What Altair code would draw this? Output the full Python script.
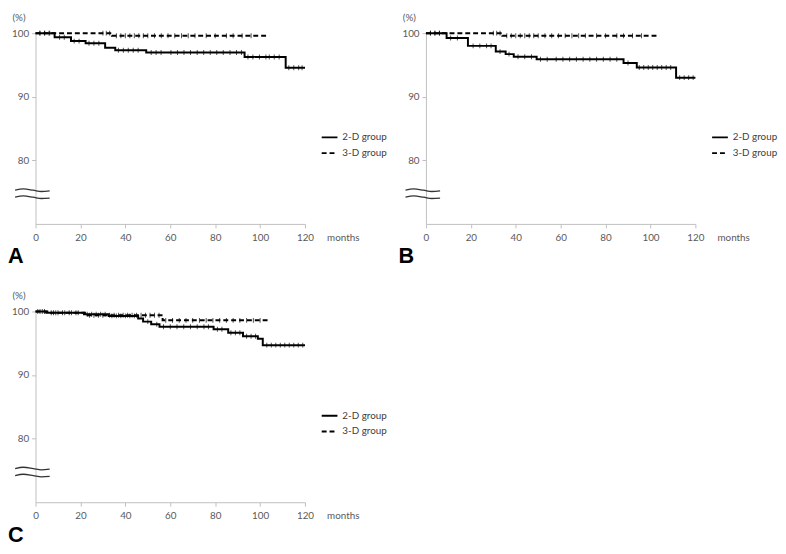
import altair as alt
import pandas as pd

# ---------------- data ----------------
groups = ["2-D group", "3-D group"]
x_ticks = [0, 20, 40, 60, 80, 100, 120]
y_ticks = [80, 90, 100]

# Panel A
a2_month = [0, 8.5, 15.8, 22.3, 31.0, 35.5, 49.3, 93.1, 111.4, 120]
a2_surv = [100, 99.35, 98.75, 98.4, 97.7, 97.3, 96.95, 96.25, 94.55, 94.55]
a3_month = [0, 34.0, 104]
a3_surv = [100, 99.6, 99.6]
a2_cens = [1.9, 4.1, 6.3, 10.7, 12.8, 17.2, 19.4, 23.8, 26.0, 28.2, 36.9, 39.1, 41.3, 43.5,
           45.7, 51.5, 53.7, 55.9, 60.3, 63.2, 66.1, 69.0, 72.0, 74.9, 77.8, 80.7, 83.6,
           86.6, 89.5, 91.7, 94.6, 96.8, 99.7, 102.6, 104.1, 106.3, 108.5, 112.8, 115.0,
           117.2, 118.7]
a3_cens = [2, 4, 6, 30, 31.5, 33, 36, 38, 40, 42, 44, 46, 48, 50, 53, 56, 59, 62, 65, 68,
           71, 76, 80, 85, 88, 92, 96]

# Panel B
b2_month = [0, 9.2, 18.7, 31.1, 35.5, 39.1, 49.3, 88.0, 93.9, 111.4, 120]
b2_surv = [100, 99.25, 98.0, 97.1, 96.7, 96.3, 95.9, 95.3, 94.6, 93.0, 93.0]
b3_month = [0, 34.0, 104]
b3_surv = [100, 99.6, 99.6]
b2_cens = [2, 4, 6, 11, 14, 21, 24, 27, 29, 33, 37, 41, 44, 47, 51, 54, 58, 61, 64, 67,
           70, 73, 76, 79, 82, 85, 90, 95, 97, 99, 101, 103, 105, 107, 109, 113, 115, 117,
           119]
b3_cens = [2, 4, 6, 30, 31.5, 33, 36, 38, 40, 42, 44, 46, 48, 50, 53, 56, 59, 62, 65, 68,
           71, 76, 80, 85, 88, 92, 96]

# Panel C
c2_month = [0, 4.8, 21.6, 32.6, 45.7, 47.9, 51.5, 55.2, 79.3, 85.8, 92.4, 99.0, 101.2, 120]
c2_surv = [100, 99.8, 99.55, 99.3, 98.9, 98.4, 98.0, 97.6, 97.2, 96.65, 96.1, 95.7, 94.7, 94.7]
c3_month = [0, 6.0, 22.0, 56.6, 104]
c3_surv = [100, 99.8, 99.4, 98.6, 98.6]
c2_cens = [2, 4, 7, 9, 12, 15, 18, 23, 25, 27, 29, 31, 34, 36, 38, 40, 42, 44, 50, 54,
           57, 60, 63, 66, 69, 72, 75, 77, 81, 83, 87, 89, 91, 94, 96, 98, 103, 105, 107,
           109, 111, 113, 115, 117, 119]
c3_cens = [1, 3, 8, 10, 13, 16, 19, 24, 26, 28, 30, 33, 35, 37, 39, 41, 43, 45, 47, 49,
           51, 53, 55, 58, 61, 64, 67, 70, 73, 76, 79, 82, 85, 88, 91, 94, 97, 100]

# axis-break symbol (two wavy strokes near the bottom of the y axis)
brk_month = [-9.1, -5.4, -1.0, 2.6, 6.3]
brk_upper = [75.3, 75.5, 75.3, 75.1, 75.2]
brk_lower = [74.2, 74.4, 74.2, 74.0, 74.05]

# ---------------- styling ----------------
TXT = "#595959"
AXC = "#bfbfbf"
FONT = "Lato"
W, H = 274, 194


def step_at(months, surv, t):
    v = surv[0]
    for m, s in zip(months, surv):
        if m <= t:
            v = s
    return v


def panel(letter, m2, s2, m3, s3, cen2, cen3):
    lines = pd.DataFrame({
        "month": m2 + m3,
        "surv": s2 + s3,
        "group": [groups[0]] * len(m2) + [groups[1]] * len(m3),
    })
    cens = pd.DataFrame({
        "month": cen2 + cen3,
        "surv": [step_at(m2, s2, t) for t in cen2] + [step_at(m3, s3, t) for t in cen3],
    })
    brk = pd.DataFrame({
        "month": brk_month + brk_month,
        "surv": brk_upper + brk_lower,
        "part": ["u"] * len(brk_month) + ["l"] * len(brk_month),
    })

    xs = alt.Scale(domain=[0, 120], nice=False, zero=False)
    ys = alt.Scale(domain=[70, 100], nice=False, zero=False)

    x_axis = alt.Axis(values=x_ticks, title="months", titleX=W + 22, titleY=14,
                      titleAlign="left", titleBaseline="middle", titleFontWeight="normal",
                      titleFont=FONT, titleFontSize=10, titleColor=TXT,
                      labelFont=FONT, labelFontSize=10, labelColor=TXT, labelPadding=5,
                      tickSize=4, tickColor=AXC, domainColor=AXC, grid=False,
                      labelFlush=False)
    y_axis = alt.Axis(values=y_ticks, title="(%)", titleAngle=0, titleX=-24, titleY=-16,
                      titleAlign="left", titleBaseline="middle", titleFontWeight="normal",
                      titleFont=FONT, titleFontSize=10, titleColor=TXT,
                      labelFont=FONT, labelFontSize=10, labelColor=TXT, labelPadding=3,
                      tickSize=4, tickColor=AXC, domainColor=AXC, grid=False)

    line_layer = alt.Chart(lines).mark_line(interpolate="step-after", color="black",
                                            strokeWidth=2).encode(
        x=alt.X("month:Q", scale=xs, axis=x_axis),
        y=alt.Y("surv:Q", scale=ys, axis=y_axis),
        strokeDash=alt.StrokeDash(
            "group:N",
            scale=alt.Scale(domain=groups, range=[[1, 0], [5, 3]]),
            legend=alt.Legend(title=None, orient="none", legendX=290, legendY=97,
                              symbolType="stroke", symbolSize=256, symbolStrokeWidth=2,
                              symbolStrokeColor="black", labelFont=FONT, labelFontSize=10,
                              labelColor="#404040", rowPadding=2, labelOffset=4),
        ),
        detail="group:N",
    )
    tick_layer = alt.Chart(cens).mark_tick(orient="vertical", color="black", thickness=1,
                                           size=5).encode(
        x=alt.X("month:Q", scale=xs),
        y=alt.Y("surv:Q", scale=ys),
    )
    brk_layer = alt.Chart(brk).mark_line(interpolate="monotone", color="#333333",
                                         strokeWidth=1.3).encode(
        x=alt.X("month:Q", scale=xs),
        y=alt.Y("surv:Q", scale=ys),
        detail="part:N",
    )
    return alt.layer(line_layer, tick_layer, brk_layer).properties(
        width=W, height=H,
        title=alt.TitleParams(text=letter, orient="bottom", anchor="start", frame="group",
                              dx=-28, offset=4, fontSize=22, fontWeight="bold",
                              font="Liberation Sans", color="black"),
    )


pA = panel("A", a2_month, a2_surv, a3_month, a3_surv, a2_cens, a3_cens)
pB = panel("B", b2_month, b2_surv, b3_month, b3_surv, b2_cens, b3_cens)
pC = panel("C", c2_month, c2_surv, c3_month, c3_surv, c2_cens, c3_cens)

chart = alt.concat(pA, pB, pC, columns=2, spacing={"row": 89, "column": 123},
                   bounds="flush").resolve_scale(
    strokeDash="independent").resolve_legend(strokeDash="independent").properties(
    padding=0).configure(background="white", padding=0).configure_view(stroke=None)

chart.save("out.html", embed_options={"renderer": "svg", "actions": False})
